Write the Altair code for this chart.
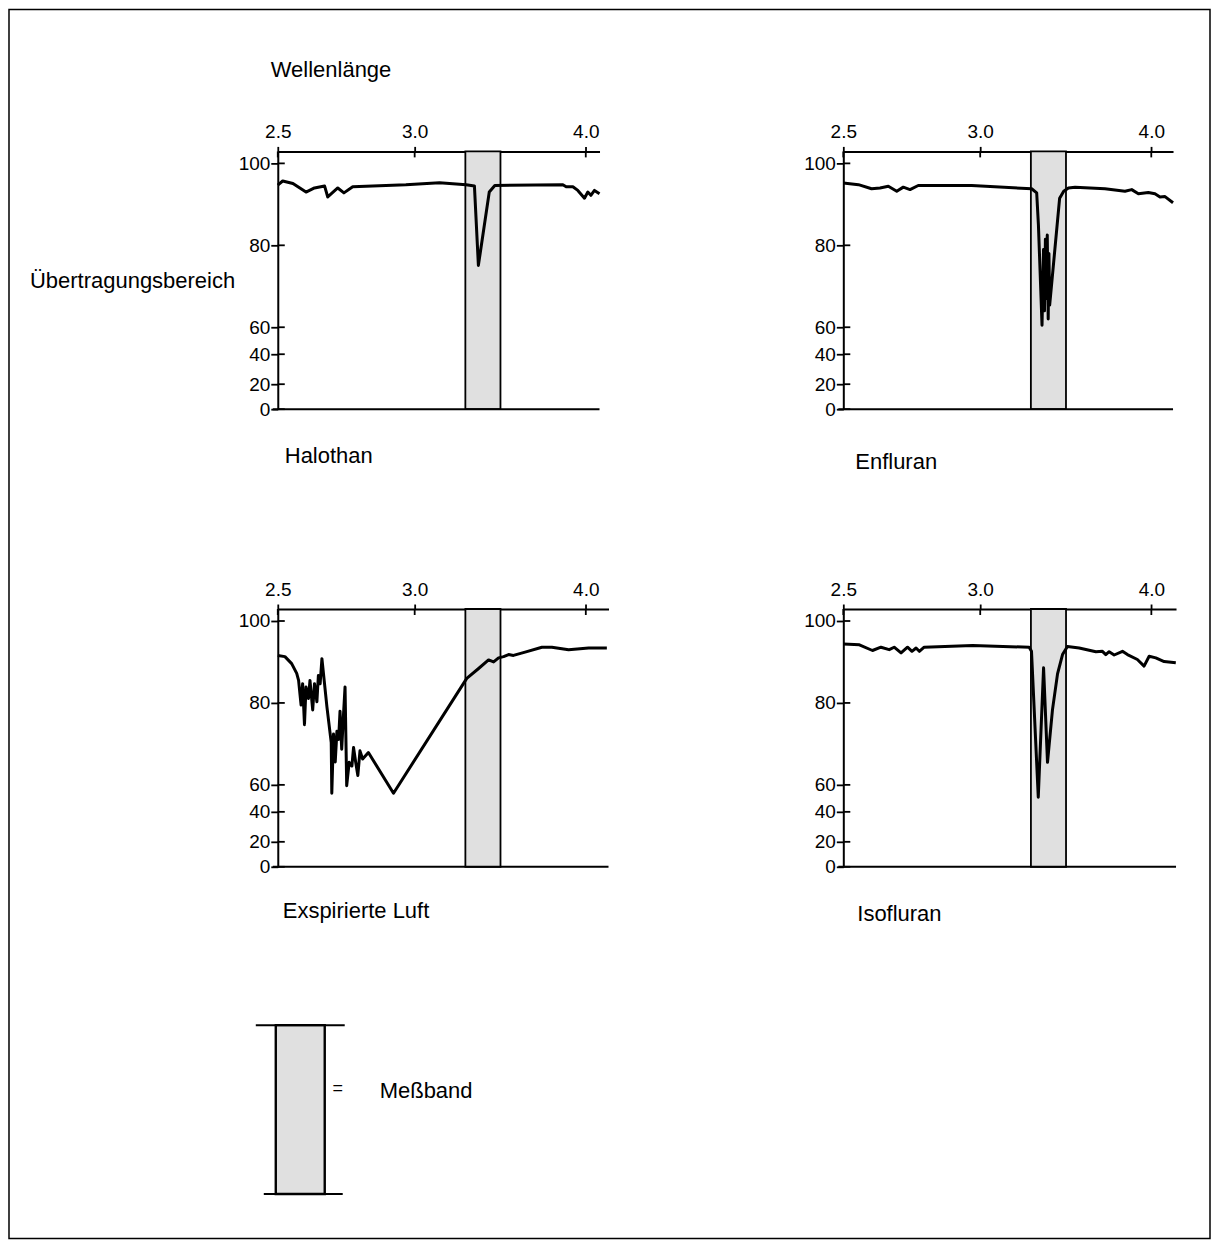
import altair as alt
import pandas as pd

# ---------------- data (wavelength in µm, transmission in %) ----------------
hal_wl = [2.500, 2.515, 2.547, 2.589, 2.617, 2.651, 2.662, 2.697, 2.719, 2.751,
          2.962, 3.113, 3.244, 3.287, 3.308, 3.367, 3.398, 3.829, 3.853, 3.902,
          3.939, 3.990, 4.016, 4.040, 4.069, 4.110]
hal_t = [94.7, 95.7, 95.1, 93.0, 94.0, 94.5, 91.8, 94.0, 92.8, 94.3,
         94.8, 95.3, 94.8, 94.5, 75.1, 93.0, 94.6, 94.8, 94.3, 94.3,
         93.4, 91.5, 93.0, 92.2, 93.4, 92.6]

enf_wl = [2.500, 2.547, 2.589, 2.617, 2.645, 2.674, 2.697, 2.721, 2.751, 2.963,
          3.244, 3.270, 3.279, 3.298, 3.306, 3.311, 3.316, 3.321, 3.326, 3.331,
          3.335, 3.339, 3.394, 3.417, 3.444, 3.483, 3.669, 3.805, 3.853, 3.902,
          3.977, 4.029, 4.069, 4.110, 4.177]
enf_t = [95.2, 94.8, 93.8, 94.0, 94.4, 93.2, 94.2, 93.6, 94.6, 94.6,
         93.8, 92.8, 85.0, 60.5, 79.0, 64.0, 81.5, 67.0, 82.5, 62.0,
         78.0, 65.4, 91.5, 93.2, 94.0, 94.2, 93.8, 93.2, 93.6, 92.6,
         92.9, 92.6, 91.8, 91.9, 90.4]

exp_wl = [2.500, 2.522, 2.543, 2.559, 2.565, 2.573, 2.578, 2.584, 2.589, 2.597,
          2.602, 2.611, 2.617, 2.625, 2.630, 2.636, 2.642, 2.659, 2.674, 2.676,
          2.682, 2.688, 2.694, 2.700, 2.705, 2.711, 2.717, 2.723, 2.729, 2.738,
          2.748, 2.754, 2.762, 2.770, 2.778, 2.788, 2.810, 2.910, 3.247, 3.309,
          3.363, 3.391, 3.419, 3.448, 3.477, 3.506, 3.577, 3.685, 3.752, 3.870,
          4.022, 4.171]
exp_t = [91.6, 91.3, 89.6, 87.2, 85.5, 79.5, 84.7, 74.7, 83.9, 81.1,
         85.5, 78.3, 84.7, 80.3, 86.7, 84.7, 90.8, 79.1, 70.3, 53.8,
         72.4, 65.6, 73.1, 71.1, 78.0, 68.7, 76.7, 83.9, 59.4, 65.5,
         64.6, 69.1, 65.5, 62.3, 68.3, 66.3, 67.9, 53.8, 86.0, 88.4,
         90.5, 90.0, 91.0, 91.3, 91.8, 91.6, 92.4, 93.6, 93.6, 93.0,
         93.4, 93.4]

iso_wl = [2.500, 2.550, 2.592, 2.620, 2.648, 2.665, 2.689, 2.712, 2.728, 2.743,
          2.755, 2.773, 2.967, 3.231, 3.243, 3.278, 3.306, 3.327, 3.354, 3.382,
          3.410, 3.438, 3.507, 3.610, 3.652, 3.674, 3.696, 3.730, 3.787, 3.822,
          3.894, 3.944, 3.983, 4.035, 4.102, 4.200]
iso_t = [94.4, 94.2, 92.8, 93.6, 93.0, 93.6, 92.2, 93.6, 92.6, 93.4,
         92.6, 93.6, 94.0, 93.6, 92.6, 50.9, 88.6, 65.5, 78.3, 87.1,
         91.8, 93.8, 93.4, 92.5, 92.6, 91.8, 92.5, 91.7, 92.6, 91.8,
         90.6, 89.0, 91.4, 91.0, 90.1, 89.8]

x_ticks = [2.5, 3.0, 4.0]
y_ticks = [0, 20, 40, 60, 80, 100]
band_lo = [3.24]
band_hi = [3.43]

panel_names = ["Halothan", "Enfluran", "Exspirierte Luft", "Isofluran"]

# ---------------- styling / layout ----------------
FONT = "Liberation Sans"
TXT = 22
H = 258
Y_DOMAIN = [0, 20, 40, 60, 80, 100, 103]
Y_RANGE = [258, 233, 203, 176, 94, 12, 0]
BAND_FILL = "#e0e0e0"


def panel(wl, t, width, wl_max, name, nx, ny, extras=()):
    xs = alt.Scale(domain=[1 / 2.5, 1 / wl_max], nice=False, zero=False)
    ys = alt.Scale(domain=Y_DOMAIN, range=Y_RANGE, nice=False, zero=False)
    xax = alt.Axis(orient="top", values=[1 / v for v in x_ticks],
                   labelExpr="format(1 / datum.value, '.1f')",
                   tickSize=5, labelPadding=5, grid=False, labelFlush=False)
    yax = alt.Axis(orient="left", values=y_ticks, tickSize=7, labelPadding=1,
                   grid=False, labelFlush=False)

    band = alt.Chart(pd.DataFrame({"lo": band_lo, "hi": band_hi})).transform_calculate(
        wn1="1 / datum.lo", wn2="1 / datum.hi"
    ).mark_rect(color=BAND_FILL, stroke="black", strokeWidth=1.8).encode(
        x=alt.X("wn1:Q", scale=xs, axis=xax, title=None),
        x2="wn2:Q",
        y=alt.value(0), y2=alt.value(H),
    )

    xt = alt.Chart(pd.DataFrame({"v": x_ticks})).transform_calculate(
        wn="1 / datum.v"
    ).mark_rule(color="black", strokeWidth=1.8).encode(
        x=alt.X("wn:Q", scale=xs, axis=xax, title=None),
        y=alt.value(0), y2=alt.value(6),
    )

    yt = alt.Chart(pd.DataFrame({"t": y_ticks})).mark_rule(
        color="black", strokeWidth=1.8
    ).encode(
        y=alt.Y("t:Q", scale=ys, axis=yax, title=None),
        x=alt.value(0), x2=alt.value(7),
    )

    bottom = alt.Chart(pd.DataFrame({"k": [0]})).mark_rule(
        color="black", strokeWidth=2
    ).encode(x=alt.value(-5), x2=alt.value(width), y=alt.value(H))

    line = alt.Chart(pd.DataFrame({"wl": wl, "t": t})).transform_calculate(
        wn="1 / datum.wl"
    ).mark_line(color="black", strokeWidth=3, strokeJoin="round").encode(
        x=alt.X("wn:Q", scale=xs, axis=xax, title=None),
        y=alt.Y("t:Q", scale=ys, axis=yax, title=None),
    )

    label = alt.Chart(pd.DataFrame({"label": [name]})).mark_text(
        align="left", baseline="middle", font=FONT, fontSize=TXT, color="black"
    ).encode(x=alt.value(nx), y=alt.value(ny), text="label:N")

    return alt.layer(band, xt, yt, bottom, line, label, *extras).properties(
        width=width, height=H
    )


def txt(s, x, y, align="left", size=TXT):
    return alt.Chart(pd.DataFrame({"label": [s]})).mark_text(
        align=align, baseline="middle", font=FONT, fontSize=size, color="black"
    ).encode(x=alt.value(x), y=alt.value(y), text="label:N")


one = pd.DataFrame({"k": [0]})

frame = alt.Chart(one).mark_rect(filled=False, color="black", strokeWidth=1.5).encode(
    x=alt.value(-269), x2=alt.value(933), y=alt.value(-142), y2=alt.value(1088)
)

p1_extras = [
    frame,
    txt("Wellenlänge", -7, -81),
    txt("Übertragungsbereich", -248, 130),
]

legend_rect = alt.Chart(one).mark_rect(color=BAND_FILL, stroke="black", strokeWidth=2.4).encode(
    x=alt.value(-2), x2=alt.value(47), y=alt.value(416.5), y2=alt.value(585.5)
)
legend_top = alt.Chart(one).mark_rule(color="black", strokeWidth=2).encode(
    x=alt.value(-22), x2=alt.value(67), y=alt.value(416.5)
)
legend_bot = alt.Chart(one).mark_rule(color="black", strokeWidth=2).encode(
    x=alt.value(-14), x2=alt.value(65), y=alt.value(585.5)
)
p3_extras = [
    legend_rect, legend_top, legend_bot,
    txt("=", 60, 480.5, align="center", size=18),
    txt("Meßband", 102, 482.5),
]

p1 = panel(hal_wl, hal_t, 322, 4.110, panel_names[0], 7, 305, p1_extras)
p2 = panel(enf_wl, enf_t, 330, 4.177, panel_names[1], 12, 311)
p3 = panel(exp_wl, exp_t, 331, 4.185, panel_names[2], 5, 302.5, p3_extras)
p4 = panel(iso_wl, iso_t, 333, 4.202, panel_names[3], 14, 305.5)

chart = alt.concat(
    p1, p2, p3, p4, columns=2,
    spacing={"row": 200, "column": 235},
    bounds="flush",
).properties(
    padding=0
).configure_axis(
    labelFont=FONT, labelFontSize=19, labelColor="black",
    domainColor="black", tickColor="black", domainWidth=2, tickWidth=1.8,
).configure_view(
    strokeWidth=0
)

chart.save("out.html", embed_options={"renderer": "svg", "actions": False})
